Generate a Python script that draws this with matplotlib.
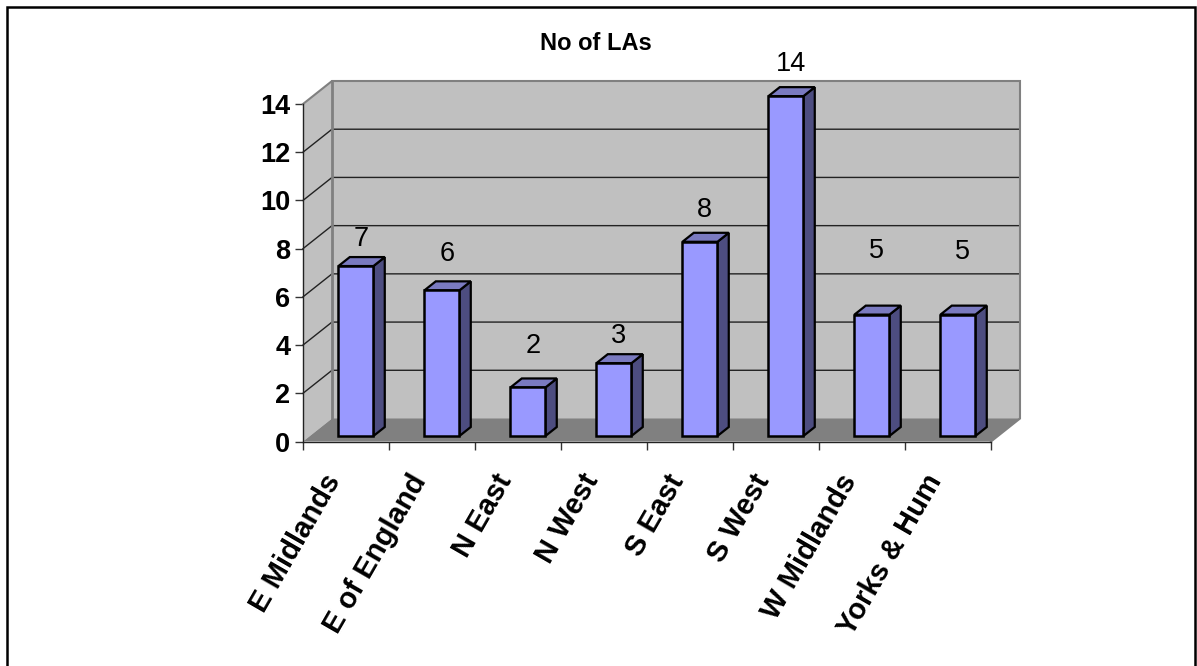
import matplotlib
matplotlib.use('Agg')
import matplotlib.pyplot as plt
from matplotlib.patches import Polygon
from matplotlib.lines import Line2D

plt.rcParams['font.family'] = ['Liberation Sans', 'DejaVu Sans']

categories = ['E Midlands', 'E of England', 'N East', 'N West', 'S East', 'S West', 'W Midlands', 'Yorks & Hum']
values = [7, 6, 2, 3, 8, 14, 5, 5]
yticks = [0, 2, 4, 6, 8, 10, 12, 14]
title = 'No of LAs'
# label gap above each bar in points, the original has them uneven
label_gaps = [19.5, 26.5, 29.5, 19.5, 23, 23, 45.5, 45]

W, H = 1197, 666
fig = plt.figure(figsize=(W / 100, H / 100), dpi=100)
# axes is the front plane of the 3d box
ax = fig.add_axes([303 / W, 1 - 441.5 / H, 688 / W, 337.5 / H])
ax.set_xlim(0, 8)
ax.set_ylim(0, 14)

px = 8 / 688
py = 14 / 337.5
DX = 29 * px
DY = 23 * py
BAR_Y = 1.007  # bars run a touch taller than the axis scale in the original


def pr(x, y, d):
    return (x + d * DX, y + d * DY)


def poly(pts, face, edge='none', lw=0, z=1):
    ax.add_patch(Polygon(pts, closed=True, facecolor=face, edgecolor=edge, linewidth=lw,
                         joinstyle='miter', clip_on=False, zorder=z))


top = yticks[-1]
# walls
poly([pr(0, 0, 0), pr(0, 0, 1), pr(0, top, 1), pr(0, top, 0)], '#c0c0c0')
poly([pr(0, 0, 1), pr(8, 0, 1), pr(8, top, 1), pr(0, top, 1)], '#c0c0c0')
poly([pr(0, 0, 0), pr(8, 0, 0), pr(8, 0, 1), pr(0, 0, 1)], '#808080')

for t in yticks[1:-1]:
    xs, ys = zip(pr(0, t, 0), pr(0, t, 1), pr(8, t, 1))
    ax.plot(xs, ys, color='#222222', lw=1.0, clip_on=False, zorder=2)
xs, ys = zip(pr(0, top, 0), pr(0, top, 1), pr(8, top, 1), pr(8, 0, 1), pr(8, 0, 0))
ax.plot(xs, ys, color='#808080', lw=1.5, clip_on=False, zorder=2, solid_joinstyle='miter')
xs, ys = zip(pr(0, 0, 1), pr(0, top, 1))
ax.plot(xs, ys, color='#808080', lw=2, clip_on=False, zorder=2)

# bars
d0, d1 = 0.24, 0.63
bw = 35 * px
for i, v in enumerate(values):
    l = i + 0.5 - bw / 2 + 3 * px
    r = l + bw
    h = v * BAR_Y
    poly([pr(r, 0, d0), pr(r, 0, d1), pr(r, h, d1), pr(r, h, d0)], '#4d4d80', 'black', 1.6, 3)
    poly([pr(l, h, d0), pr(r, h, d0), pr(r, h, d1), pr(l, h, d1)], '#7a7ac0', 'black', 1.6, 3)
    poly([pr(l, 0, d0), pr(r, 0, d0), pr(r, h, d0), pr(l, h, d0)], '#9999ff', 'black', 1.8, 4)
    ax.annotate(str(v), xy=pr((l + r) / 2, h, d0), xytext=(3.5, label_gaps[i]), textcoords='offset points',
                ha='center', va='center', fontsize=19.5, color='black', zorder=5, annotation_clip=False)

for s in ['top', 'right']:
    ax.spines[s].set_visible(False)
for s in ['left', 'bottom']:
    ax.spines[s].set_linewidth(1.0)
    ax.spines[s].set_color('#222222')
ax.patch.set_alpha(0)
ax.set_xticks(range(9))
ax.set_xticklabels([])
ax.set_yticks(yticks)
ax.set_yticklabels([str(t) for t in yticks], fontsize=19.5, fontweight='bold')
ax.tick_params(axis='both', length=6, width=1.0, color='#333333', direction='out', pad=3)

for i, c in enumerate(categories):
    ax.annotate(c, xy=(i + 0.5, 0), xytext=(-17.5, -20), textcoords='offset points', rotation=60,
                rotation_mode='anchor', ha='right', va='top', fontsize=21, fontweight='bold',
                annotation_clip=False)

fig.text(595.5 / W, 1 - 43 / H, title, ha='center', va='center', fontsize=17, fontweight='bold')

# outer frame, no bottom edge in the original
fig.add_artist(Line2D([7 / W, 7 / W, 1195 / W, 1195 / W], [0, 1 - 7 / H, 1 - 7 / H, 0],
                      transform=fig.transFigure, color='black', lw=1.8, solid_joinstyle='miter'))

fig.savefig('out.png', dpi=100)
